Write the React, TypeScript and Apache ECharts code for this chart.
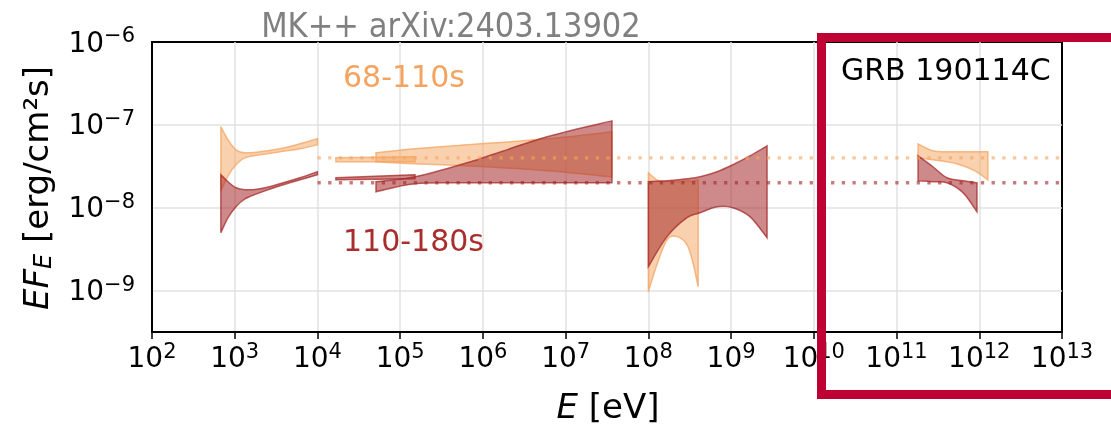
import React, { useEffect, useRef } from 'react';
import * as echarts from 'echarts';

const FONT = 'DejaVu Sans';
const ORANGE_RGB = '244,164,96';
const RED_RGB = '165,42,42';

// Energies in eV, EF_E in erg/cm^2/s
// 68-110 s (orange)
const xrtE = [680, 830, 1035, 1330, 2020, 3520, 6150, 10000];
const xrtEarlyHi = [9.5e-8, 6.6e-8, 5.0e-8, 4.6e-8, 4.73e-8, 5.14e-8, 5.9e-8, 6.78e-8];
const xrtEarlyLo = [1.6e-8, 2.43e-8, 3.3e-8, 4.0e-8, 4.35e-8, 4.73e-8, 5.14e-8, 5.74e-8];
const batE = [1.67e4, 1.51e5];
const batEarlyHi = [4.0e-8, 4.11e-8];
const batEarlyLo = [3.58e-8, 3.58e-8];
const gbmE = [5.1e4, 1.51e5, 6.43e5, 5.96e6, 3.63e7];
const gbmEarlyHi = [4.6e-8, 5.14e-8, 5.74e-8, 6.78e-8, 8.24e-8];
const gbmEarlyLo = [3.58e-8, 3.39e-8, 3.21e-8, 2.79e-8, 2.36e-8];
const latEarlyE = [1e8, 1.27e8, 1.68e8, 2.22e8, 2.93e8, 3.46e8, 4e8];
const latEarlyHi = [2.64e-8, 2.17e-8, 2.06e-8, 2.06e-8, 2.11e-8, 2.11e-8, 2.17e-8];
const latEarlyLo = [9.7e-10, 2.06e-9, 4.11e-9, 4.48e-9, 3.58e-9, 2.17e-9, 1.12e-9];
const magicEarlyE = [1.82e11, 2.75e11, 4.07e11, 5.85e11, 8.87e11, 1.27e12];
const magicEarlyHi = [5.9e-8, 4.86e-8, 4.73e-8, 4.73e-8, 4.73e-8, 4.73e-8];
const magicEarlyLo = [4.0e-8, 3.79e-8, 3.58e-8, 3.3e-8, 2.79e-8, 2.17e-8];

// 110-180 s (red)
const xrtLateHi = [2.5e-8, 2.06e-8, 1.74e-8, 1.65e-8, 1.69e-8, 1.95e-8, 2.3e-8, 2.72e-8];
const xrtLateLo = [5.0e-9, 7.6e-9, 1.03e-8, 1.28e-8, 1.52e-8, 1.84e-8, 2.17e-8, 2.5e-8];
const batLateHi = [2.3e-8, 2.5e-8];
const batLateLo = [2.17e-8, 2.23e-8];
const gbmLateHi = [2.06e-8, 2.36e-8, 3.48e-8, 7.17e-8, 1.117e-7];
const gbmLateLo = [1.56e-8, 1.95e-8, 2.0e-8, 2.0e-8, 2.0e-8];
const latLateE = [1e8, 1.68e8, 2.93e8, 4.21e8, 6.76e8, 1.05e9, 1.69e9, 2.72e9];
const latLateHi = [2.06e-8, 2.11e-8, 2.23e-8, 2.36e-8, 2.72e-8, 3.3e-8, 4.23e-8, 5.58e-8];
const latLateLo = [1.95e-9, 4.48e-9, 7.59e-9, 8.7e-9, 1.03e-8, 1.0e-8, 7.8e-9, 4.35e-9];
const magicLateE = [1.82e11, 2.75e11, 4.07e11, 6.36e11, 9.38e11];
const magicLateHi = [4.23e-8, 3.12e-8, 2.3e-8, 2.11e-8, 2.0e-8];
const magicLateLo = [2.11e-8, 2.06e-8, 2.0e-8, 1.52e-8, 8.95e-9];

// reference flux levels (dotted)
const refE = [1e4, 1e13];
const refEarly = 4e-8;
const refLate = 2e-8;

const xTicks = [2, 3, 4, 5, 6, 7, 8, 9, 10, 11, 12, 13];

const lg = (v: number) => Math.log10(v);

// smooth curve segments (Catmull-Rom as cubic Bezier) through pixel points
function curveSegs(pts: number[][]) {
  let d = '';
  for (let i = 0; i < pts.length - 1; i++) {
    const p0 = pts[i - 1] || pts[i];
    const p1 = pts[i];
    const p2 = pts[i + 1];
    const p3 = pts[i + 2] || p2;
    const c1x = p1[0] + (p2[0] - p0[0]) / 6;
    const c1y = p1[1] + (p2[1] - p0[1]) / 6;
    const c2x = p2[0] - (p3[0] - p1[0]) / 6;
    const c2y = p2[1] - (p3[1] - p1[1]) / 6;
    d += ` C ${c1x} ${c1y} ${c2x} ${c2y} ${p2[0]} ${p2[1]}`;
  }
  return d;
}

function band(E: number[], hi: number[], lo: number[], rgb: string, fillA: number, z: number) {
  return {
    type: 'custom',
    coordinateSystem: 'cartesian2d',
    silent: true,
    z,
    data: [[lg(E[0]), lg(hi[0])]],
    renderItem: (_p: any, api: any) => {
      const up: number[][] = E.map((e, i) => api.coord([lg(e), lg(hi[i])]));
      const dn: number[][] = E.map((e, i) => api.coord([lg(e), lg(lo[i])])).reverse();
      const d = `M ${up[0][0]} ${up[0][1]}` + curveSegs(up) + ` L ${dn[0][0]} ${dn[0][1]}` + curveSegs(dn) + ' Z';
      return {
        type: 'path',
        shape: { pathData: d },
        style: { fill: `rgba(${rgb},${fillA})`, stroke: `rgba(${rgb},0.75)`, lineWidth: 1.5 },
      };
    },
  };
}

function refLine(level: number, rgb: string) {
  return {
    type: 'line',
    silent: true,
    z: 10,
    showSymbol: false,
    data: refE.map((e) => [lg(e), lg(level)]),
    lineStyle: { color: `rgba(${rgb},0.62)`, width: 3.3, type: [3.3, 7.4] },
  };
}

const GRID_C = '#e2e2e2';
const NONE = 'rgba(0,0,0,0)';

export default function App() {
  const ref = useRef<HTMLDivElement>(null);
  useEffect(() => {
    if (!ref.current) return;
    const chart = echarts.init(ref.current, null, { renderer: 'svg' });
    const rich = {
      b: { fontFamily: FONT, fontSize: 28, color: '#000' },
      s: { fontFamily: FONT, fontSize: 21, color: '#000', padding: [0, 0, 14, 0] },
    };
    chart.setOption({
      animation: false,
      grid: { left: 152, top: 42, width: 910, height: 290, show: true, borderColor: '#000', borderWidth: 2, backgroundColor: 'transparent' },
      xAxis: {
        type: 'value', min: 2, max: 13, interval: 1,
        axisLine: { lineStyle: { color: '#000', width: 2 } },
        axisTick: { show: true, length: 7, lineStyle: { color: '#000', width: 1.5 } },
        splitLine: {
          show: true,
          lineStyle: { color: [NONE, GRID_C, GRID_C, GRID_C, GRID_C, GRID_C, GRID_C, GRID_C, GRID_C, GRID_C, GRID_C, NONE], width: 1.5 },
        },
        axisLabel: {
          margin: 8,
          formatter: (v: number) => (xTicks.includes(v) ? `{b|10}{s|${v}}` : ''),
          rich,
        },
      },
      yAxis: {
        type: 'value', min: -9.5, max: -6, interval: 0.5,
        axisLine: { show: true, lineStyle: { color: '#000', width: 2 } },
        axisTick: { show: false },
        splitLine: { show: true, lineStyle: { color: [NONE, GRID_C, NONE, GRID_C, NONE, GRID_C, NONE, NONE], width: 1.5 } },
        axisLabel: {
          margin: 17,
          formatter: (v: number) => (Number.isInteger(v) ? `{b|10}{s|\u2212${-v}}` : ''),
          rich,
        },
      },
      series: [
        band(xrtE, xrtEarlyHi, xrtEarlyLo, ORANGE_RGB, 0.5, 2),
        band(batE, batEarlyHi, batEarlyLo, ORANGE_RGB, 0.5, 2),
        band(gbmE, gbmEarlyHi, gbmEarlyLo, ORANGE_RGB, 0.5, 2),
        band(latEarlyE, latEarlyHi, latEarlyLo, ORANGE_RGB, 0.5, 2),
        band(magicEarlyE, magicEarlyHi, magicEarlyLo, ORANGE_RGB, 0.5, 2),
        band(xrtE, xrtLateHi, xrtLateLo, RED_RGB, 0.55, 3),
        band(batE, batLateHi, batLateLo, RED_RGB, 0.55, 3),
        band(gbmE, gbmLateHi, gbmLateLo, RED_RGB, 0.55, 3),
        band(latLateE, latLateHi, latLateLo, RED_RGB, 0.55, 3),
        band(magicLateE, magicLateHi, magicLateLo, RED_RGB, 0.55, 3),
        refLine(refEarly, ORANGE_RGB),
        refLine(refLate, RED_RGB),
      ],
      graphic: [
        {
          type: 'text', x: 451, y: 25, z: 50,
          style: { text: 'MK++ arXiv:2403.13902', fontFamily: 'DejaVu Sans Condensed, DejaVu Sans', fontSize: 34, fill: '#808080', align: 'center', verticalAlign: 'middle' },
        },
        {
          type: 'text', x: 343, y: 76, z: 50,
          style: { text: '68-110s', fontFamily: FONT, fontSize: 30, fill: 'rgb(244,164,96)', align: 'left', verticalAlign: 'middle' },
        },
        {
          type: 'text', x: 343, y: 240, z: 50,
          style: { text: '110-180s', fontFamily: FONT, fontSize: 30, fill: 'rgb(170,45,45)', align: 'left', verticalAlign: 'middle' },
        },
        {
          type: 'text', x: 841, y: 69, z: 50,
          style: { text: 'GRB 190114C', fontFamily: FONT, fontSize: 30, fill: '#000', align: 'left', verticalAlign: 'middle' },
        },
        {
          type: 'text', x: 608, y: 406, z: 50,
          style: {
            text: '{i|E}{n| [eV]}', align: 'center', verticalAlign: 'middle',
            rich: {
              i: { fontFamily: FONT, fontSize: 34, fontStyle: 'italic', color: '#000' },
              n: { fontFamily: FONT, fontSize: 34, color: '#000' },
            },
          },
        },
        {
          type: 'text', x: 36, y: 188, z: 50, rotation: Math.PI / 2,
          style: {
            text: '{i|EF}{u|E}{n| [erg/cm²s]}', align: 'center', verticalAlign: 'middle',
            rich: {
              i: { fontFamily: FONT, fontSize: 34, fontStyle: 'italic', color: '#000' },
              u: { fontFamily: FONT, fontSize: 24, fontStyle: 'italic', color: '#000', padding: [14, 0, 0, 0] },
              n: { fontFamily: FONT, fontSize: 34, color: '#000' },
            },
          },
        },
        {
          type: 'rect', z: 100,
          shape: { x: 821.5, y: 37.5, width: 400, height: 357 },
          style: { fill: 'none', stroke: '#BE0032', lineWidth: 9 },
        },
      ],
    });
    return () => chart.dispose();
  }, []);
  return <div ref={ref} style={{ position: 'fixed', left: 0, top: 0, width: 1111, height: 425 }} />;
}
